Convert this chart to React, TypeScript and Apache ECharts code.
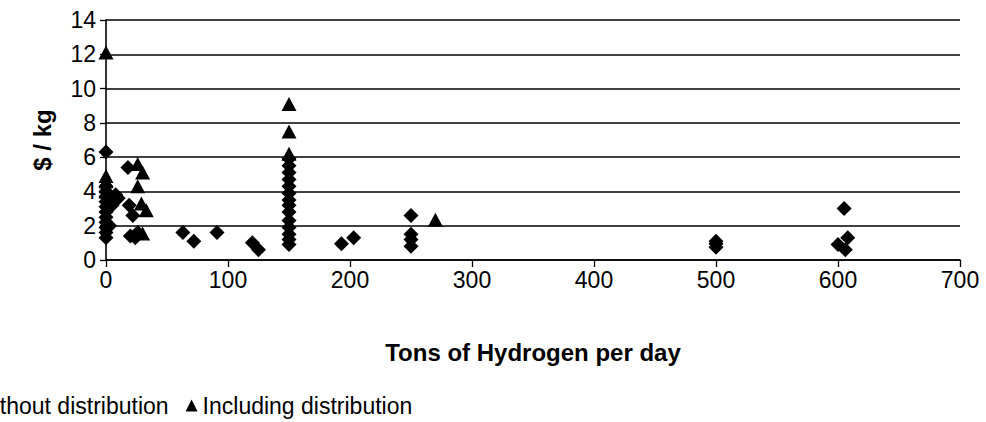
import React, { useEffect, useRef } from "react";
import * as echarts from "echarts";

const seriesNames = ["Without distribution", "Including distribution"];

const withoutDistribution: [number, number][] = [
  [0, 6.3], [0, 4.3], [0, 4.0], [0, 3.7], [0, 3.4], [0, 3.1], [0, 2.8], [0, 2.5],
  [0, 2.2], [0, 1.9], [0, 1.6], [0, 1.3], [8, 3.8], [10, 3.6], [5, 3.2], [3, 2.0],
  [18, 5.4], [19, 3.2], [22, 2.6], [20, 1.4], [24, 1.3], [26, 1.6],
  [63, 1.6], [72, 1.1], [91, 1.6], [120, 1.0], [125, 0.6],
  [150, 5.9], [150, 5.5], [150, 5.1], [150, 4.7], [150, 4.3], [150, 3.9], [150, 3.5],
  [150, 3.2], [150, 2.8], [150, 2.3], [150, 1.9], [150, 1.5], [150, 1.2], [150, 0.9],
  [193, 0.95], [203, 1.3],
  [250, 2.6], [250, 1.5], [250, 1.2], [250, 0.8],
  [500, 0.75], [500, 0.95], [500, 1.1],
  [600, 0.9], [605, 3.0], [608, 1.3], [606, 0.6],
];

const includingDistribution: [number, number][] = [
  [0, 12.1], [0, 4.9], [0, 4.6], [0, 4.3], [0, 4.0],
  [26, 5.6], [30, 5.1], [26, 4.3], [29, 3.3], [33, 2.9], [30, 1.55],
  [150, 9.1], [150, 7.5], [150, 6.2],
  [270, 2.35],
];

const xTitle = "Tons of Hydrogen per day";
const yTitle = "$ / kg";

const FONT = "'Liberation Sans', Arial, sans-serif";

export default function App() {
  const ref = useRef<HTMLDivElement>(null);
  useEffect(() => {
    if (!ref.current) return;
    const chart = echarts.init(ref.current, undefined, { renderer: "svg" });
    chart.setOption({
      animation: false,
      backgroundColor: "#ffffff",
      textStyle: { fontFamily: FONT, color: "#000" },
      grid: { left: 106, right: 26, top: 20, bottom: 162, containLabel: false },
      legend: {
        data: [
          { name: seriesNames[0], icon: "diamond" },
          { name: seriesNames[1], icon: "triangle" },
        ],
        left: -49,
        top: 389,
        itemWidth: 12,
        itemHeight: 12,
        itemGap: 17,
        textStyle: { fontFamily: FONT, fontSize: 23, color: "#000" },
      },
      xAxis: {
        type: "value",
        min: 0,
        max: 700,
        interval: 100,
        name: xTitle,
        nameLocation: "middle",
        nameGap: 80,
        nameTextStyle: { fontFamily: FONT, fontSize: 24, fontWeight: "bold", color: "#000" },
        axisLine: { show: true, lineStyle: { color: "#000", width: 1.6 } },
        axisTick: { show: true, inside: false, length: 7, lineStyle: { color: "#000", width: 1.3 } },
        axisLabel: { fontFamily: FONT, fontSize: 23, color: "#000", margin: 8 },
        splitLine: { show: false },
      },
      yAxis: {
        type: "value",
        min: 0,
        max: 14,
        interval: 2,
        name: yTitle,
        nameLocation: "middle",
        nameGap: 52,
        nameTextStyle: { fontFamily: FONT, fontSize: 24, fontWeight: "bold", color: "#000" },
        axisLine: { show: true, lineStyle: { color: "#000", width: 1.6 } },
        axisTick: { show: true, inside: false, length: 6, lineStyle: { color: "#000", width: 1.3 } },
        axisLabel: { fontFamily: FONT, fontSize: 23, color: "#000", margin: 10 },
        splitLine: { show: true, lineStyle: { color: "#000", width: 1.5 } },
      },
      series: [
        {
          name: seriesNames[0],
          type: "scatter",
          symbol: "diamond",
          symbolSize: 15,
          data: withoutDistribution,
          itemStyle: { color: "#000", opacity: 1 },
        },
        {
          name: seriesNames[1],
          type: "scatter",
          symbol: "triangle",
          symbolSize: [15, 14],
          data: includingDistribution,
          itemStyle: { color: "#000", opacity: 1 },
        },
      ],
    });
    return () => chart.dispose();
  }, []);
  return (
    <div
      ref={ref}
      style={{ position: "fixed", left: 0, top: 0, width: 986, height: 422, background: "#fff" }}
    />
  );
}
